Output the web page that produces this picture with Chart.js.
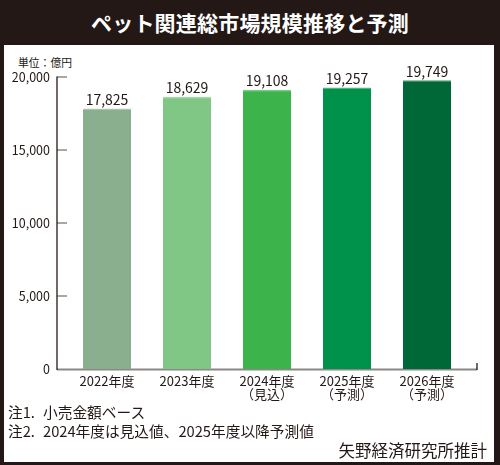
<!DOCTYPE html>
<html lang="ja">
<head>
<meta charset="utf-8">
<title>ペット関連総市場規模推移と予測</title>
<script src="https://cdn.jsdelivr.net/npm/chart.js@4"></script>
<style>
  html, body { margin: 0; padding: 0; }
  body { font-family: 'Noto Sans CJK JP', 'Noto Sans', sans-serif; color: #231815; }
  #frame { position: relative; width: 500px; height: 465px; background: #231815; overflow: hidden; }
  #title { position: absolute; left: 0; top: 0; width: 500px; height: 45px; line-height: 44px;
           text-align: center; color: #fff; font-size: 21px; font-weight: bold; letter-spacing: 0.2px; }
  #panel { position: absolute; left: 4px; top: 45px; width: 490px; height: 417px; background: #fff; }
  #unit { position: absolute; left: 18px; top: 54px; font-size: 10.8px; }
  .note { position: absolute; left: 8px; font-size: 14.7px; white-space: nowrap; }
  .note span { display: inline-block; width: 35px; }
  #source { position: absolute; right: 13px; top: 438px; font-size: 16.5px; }
  #chartCanvas { position: absolute; left: 0; top: 0; }
</style>
</head>
<body>
<div id="frame">
  <div id="title">ペット関連総市場規模推移と予測</div>
  <div id="panel"></div>
  <div id="unit">単位：億円</div>
  <canvas id="chartCanvas" width="500" height="465"></canvas>
  <div class="note" style="top:401px"><span>注1.</span>小売金額ベース</div>
  <div class="note" style="top:420px"><span>注2.</span>2024年度は見込値、2025年度以降予測値</div>
  <div id="source">矢野経済研究所推計</div>
</div>
<script>
// 年度（ラベル）
const categories = [
    ['2022年度'],
    ['2023年度'],
    ['2024年度', '（見込）'],
    ['2025年度', '（予測）'],
    ['2026年度', '（予測）']
];

// 市場規模（億円）
const marketSize = [17825, 18629, 19108, 19257, 19749];

// 目盛り
const yTicks = [0, 5000, 10000, 15000, 20000];

// 棒の色
const barColors = ['#8aaf8e', '#80c785', '#3cb44b', '#00924a', '#006837'];
const barTopColors = ['#a9c6ac', '#a3d7a6', '#7acb83', '#4fb37c', '#4d9a72'];

const darkColor = '#231815';
const font = "'Noto Sans CJK JP', 'Noto Sans', sans-serif";

function formatNumber(v) {
    return v.toLocaleString('en-US');
}

// 軸の線と目盛り線を描く
const axisLines = {
    id: 'axisLines',
    beforeDatasetsDraw(chart) {
        const ctx = chart.ctx;
        const area = chart.chartArea;
        const y = chart.scales.y;
        const xLeft = area.left - 10;
        const xRight = area.right + 10;
        const yZero = y.getPixelForValue(0);
        const yTop = y.getPixelForValue(yTicks[yTicks.length - 1]);

        ctx.save();
        // 目盛り線（グレー）
        ctx.strokeStyle = '#8c8886';
        ctx.lineWidth = 1.5;
        yTicks.forEach(function(v) {
            if (v === 0) return;
            const py = y.getPixelForValue(v);
            ctx.beginPath();
            ctx.moveTo(xLeft, py);
            ctx.lineTo(xLeft + 10, py);
            ctx.stroke();
        });
        // 横軸
        ctx.lineWidth = 1.8;
        ctx.beginPath();
        ctx.moveTo(xLeft, yZero + 0.5);
        ctx.lineTo(xRight, yZero + 0.5);
        ctx.stroke();
        // 縦軸
        ctx.strokeStyle = darkColor;
        ctx.lineWidth = 1.3;
        ctx.beginPath();
        ctx.moveTo(xLeft, yTop - 0.5);
        ctx.lineTo(xLeft, yZero + 1);
        ctx.stroke();
        // 右端の小さな目盛り
        ctx.beginPath();
        ctx.moveTo(xRight, yZero - 6);
        ctx.lineTo(xRight, yZero + 1);
        ctx.stroke();
        ctx.restore();
    }
};

// 棒の上に数値を表示
const valueLabels = {
    id: 'valueLabels',
    afterDatasetsDraw(chart) {
        const ctx = chart.ctx;
        const meta = chart.getDatasetMeta(0);
        ctx.save();
        ctx.fillStyle = darkColor;
        ctx.font = '14px ' + font;
        ctx.textAlign = 'center';
        ctx.textBaseline = 'alphabetic';
        meta.data.forEach(function(bar, i) {
            ctx.fillText(formatNumber(marketSize[i]), bar.x, bar.y - 4);
        });
        ctx.restore();
    }
};

const ctx = document.getElementById('chartCanvas').getContext('2d');

new Chart(ctx, {
    type: 'bar',
    data: {
        labels: categories,
        datasets: [{
            data: marketSize,
            backgroundColor: barColors,
            borderColor: barTopColors,
            borderWidth: { top: 1.5, right: 0, bottom: 0, left: 0 },
            borderSkipped: 'bottom',
            barThickness: 48
        }]
    },
    options: {
        responsive: false,
        animation: false,
        layout: {
            padding: { left: 0, top: 77, right: 33, bottom: 0 }
        },
        plugins: {
            legend: { display: false },
            tooltip: { enabled: false },
            title: { display: false }
        },
        scales: {
            x: {
                grid: { display: false, drawTicks: false },
                border: { display: false },
                ticks: {
                    color: darkColor,
                    padding: 5,
                    maxRotation: 0,
                    autoSkip: false,
                    font: { family: font, size: 13, lineHeight: 1.05 }
                },
                afterFit(scale) { scale.height = 96; }
            },
            y: {
                min: 0,
                max: 20000,
                grid: { display: false, drawTicks: false },
                border: { display: false },
                afterBuildTicks(scale) {
                    scale.ticks = yTicks.map(function(v) { return { value: v }; });
                },
                ticks: {
                    color: darkColor,
                    padding: 17,
                    font: { family: font, size: 12.5 },
                    callback: function(value) { return formatNumber(value); }
                },
                afterFit(scale) { scale.width = 67; }
            }
        }
    },
    plugins: [axisLines, valueLabels]
});
</script>
</body>
</html>
